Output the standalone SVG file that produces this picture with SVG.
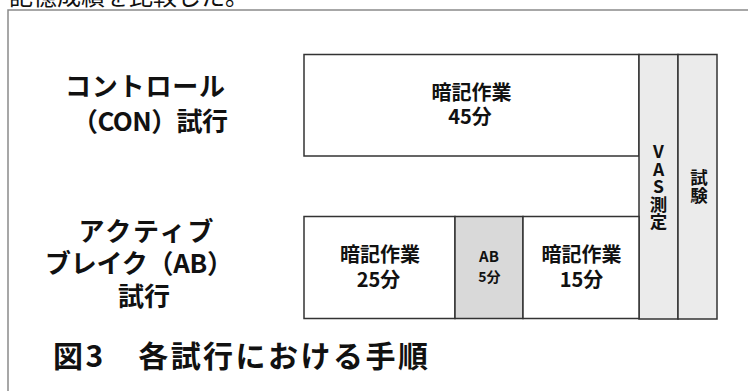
<svg xmlns="http://www.w3.org/2000/svg" width="748" height="391" viewBox="0 0 748 391">
<style>
.t{font-family:"Noto Sans CJK JP","Noto Sans",sans-serif;font-weight:bold;fill:#111;text-anchor:middle}
.v{font-family:"Noto Sans CJK JP","Noto Sans",sans-serif;font-weight:bold;fill:#111;writing-mode:vertical-rl;text-orientation:upright}
.box{stroke:#333;stroke-width:1.5}
.w{fill:#fff}
.g{fill:#ebebeb}
.ab{fill:#d9d9d9}
</style>
<rect width="748" height="391" fill="#fff"/>
<text x="9" y="5" textLength="240" style="font-family:'Noto Sans CJK JP',sans-serif;font-size:24px;fill:#111">記憶成績を比較した。</text>
<path d="M8 391 V10 H748" fill="none" stroke="#8a8a8a" stroke-width="1.5"/>
<g id="label-con">
<text class="t" x="145" y="96" font-size="26" textLength="160">コントロール</text>
<text class="t" x="150" y="131" font-size="26" textLength="156">（CON）試行</text>
</g>
<g id="label-ab">
<text class="t" x="146" y="241" font-size="26" textLength="135">アクティブ</text>
<text class="t" x="139" y="273" font-size="26" textLength="188">ブレイク（AB）</text>
<text class="t" x="144" y="306" font-size="26" textLength="52">試行</text>
</g>
<g id="con-task">
<rect class="box w" x="304" y="54.5" width="335" height="101.5"/>
<text class="t" font-size="20"><tspan x="471.5" y="100">暗記作業</tspan><tspan x="470" y="124">45分</tspan></text>
</g>
<g id="vas">
<rect class="box g" x="639" y="54.5" width="39" height="264.5"/>
<text class="v" x="658.5" y="143" font-size="17.5">VAS測定</text>
</g>
<g id="test">
<rect class="box g" x="678" y="54.5" width="39" height="264.5"/>
<text class="v" x="699" y="169" font-size="17.5">試験</text>
</g>
<g id="ab-task1">
<rect class="box w" x="304" y="216.5" width="151" height="102"/>
<text class="t" font-size="20"><tspan x="380" y="262">暗記作業</tspan><tspan x="378.5" y="287">25分</tspan></text>
</g>
<g id="ab-break">
<rect class="box ab" x="455" y="216.5" width="68" height="102"/>
<text class="t"><tspan x="489" y="262" font-size="15">AB</tspan><tspan x="489.5" y="282" font-size="14">5分</tspan></text>
</g>
<g id="ab-task2">
<rect class="box w" x="523" y="216.5" width="116" height="102"/>
<text class="t" font-size="20"><tspan x="581.5" y="262">暗記作業</tspan><tspan x="581.5" y="287">15分</tspan></text>
</g>
<g id="connectors"></g>
<text x="53" y="367" textLength="375" style="font-family:'Noto Sans CJK JP',sans-serif;font-weight:bold;font-size:30px;fill:#111">図3　各試行における手順</text>
</svg>
